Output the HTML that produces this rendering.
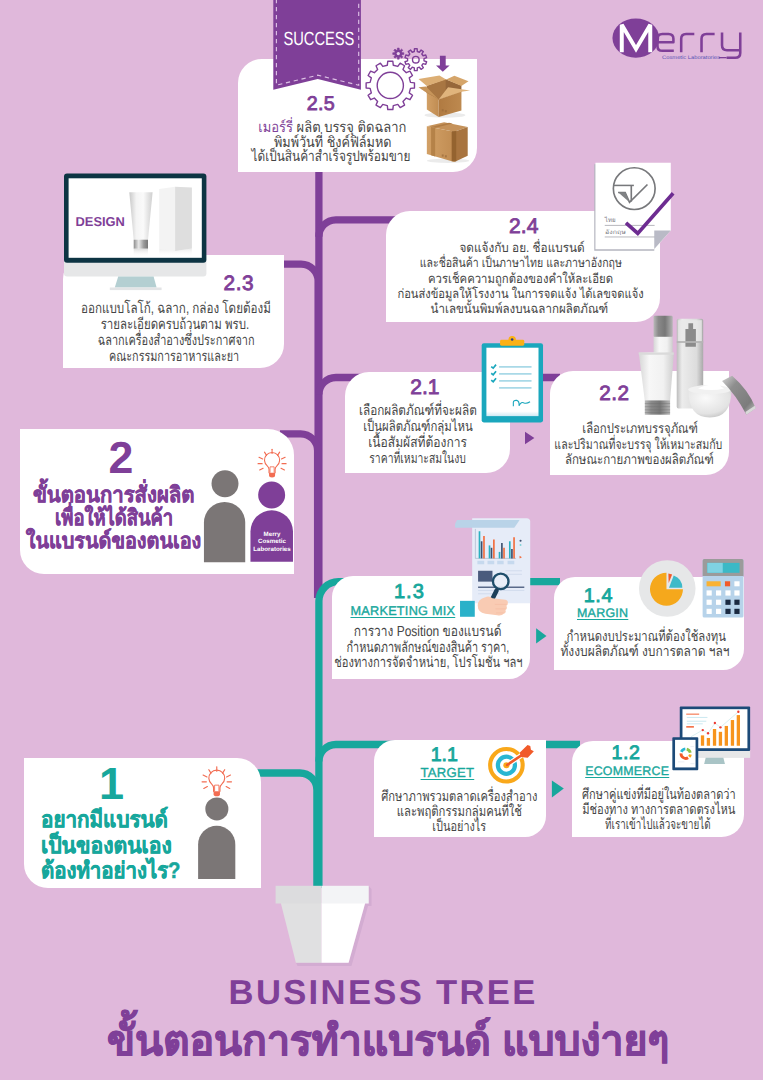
<!DOCTYPE html>
<html lang="th">
<head>
<meta charset="utf-8">
<title>Business Tree</title>
<style>
html,body{margin:0;padding:0;}
body{width:763px;height:1080px;background:#e0b8db;font-family:"Liberation Sans",sans-serif;overflow:hidden;position:relative;color:#231f20;text-rendering:geometricPrecision;}
#page{position:absolute;left:0;top:0;width:763px;height:1080px;overflow:hidden;background:#e0b8db;}
svg{position:absolute;overflow:visible;}
.box{position:absolute;background:#fff;}
.r{border-radius:25px 0 25px 0;}
.l{border-radius:0 25px 0 25px;}
.t{position:absolute;white-space:nowrap;text-align:center;}
.num{position:absolute;white-space:nowrap;text-align:center;font-weight:normal;-webkit-text-stroke:0.85px;color:#7f3f98;line-height:24px;width:60px;margin-left:-30px;}
.teal{color:#17a79c;}
.pur{color:#7f3f98;}
.ln{position:absolute;text-align:center;white-space:nowrap;font-size:12.5px;line-height:16px;height:16px;color:#454545;width:300px;margin-left:-150px;margin-top:-8px;}
.ln>span,.big>span{display:inline-block;}
.lbl{position:absolute;white-space:nowrap;text-align:center;font-size:12.5px;font-weight:normal;-webkit-text-stroke:0.35px;color:#17a79c;text-decoration:underline;text-decoration-thickness:0.9px;text-underline-offset:1.5px;letter-spacing:0.25px;line-height:14px;width:200px;margin-left:-100px;}
</style>
</head>
<body>
<div id="page">
<!-- TREE -->
<svg id="tree" width="763" height="1080" viewBox="0 0 763 1080" style="left:0;top:0">
  <g fill="none" stroke="#7f3f98" stroke-width="7.3">
    <path d="M318.9 60 V598"/>
    <path d="M400 219.8 H335.9 A17 17 0 0 0 318.9 236.8"/>
    <path d="M270 264.1 H301.1 A17 17 0 0 1 318.1 281.1 V598"/>
    <path d="M560 377.5 H335.9 A17 17 0 0 0 318.9 394.5"/>
    <path d="M280 433.8 H300.6 A17 17 0 0 1 317.6 450.8 V598"/>
  </g>
  <g fill="none" stroke="#17a79c" stroke-width="7.3">
    <path d="M318.9 888 V601.1 A19.5 19.5 0 0 1 338.4 581.6 H560"/>
    <path d="M580 744.5 H335.9 A17 17 0 0 0 318.9 761.5"/>
    <path d="M250 773 H299.9 A17 17 0 0 1 316.9 790 V888"/>
  </g>
  <!-- pot -->
  <g>
    <path d="M368.7 886 V903.5 H365.2 L348.6 962.7 H296 L297.5 966 H351.5 L368 906 H371.5 V889 Z" fill="#c9a3cb" opacity=".55"/>
    <path d="M280.8 903 H321.5 V962.7 H295.9 Z" fill="#e0e0e1"/>
    <path d="M321.5 903 H365.2 L348.6 962.7 H321.5 Z" fill="#ffffff"/>
    <rect x="275.6" y="885.8" width="45.9" height="17.7" fill="#dcdcde"/>
    <rect x="321.5" y="885.8" width="47.2" height="17.7" fill="#f3f4f6"/>
  </g>
</svg>

<!-- BOXES -->
<div class="box" style="left:238.2px;top:59.4px;width:239.3px;height:112.2px;border-radius:24px 0 24px 0"></div>
<div class="box" style="left:386.4px;top:210.8px;width:273.7px;height:111.1px;border-radius:24px 0 24px 0"></div>
<div class="box" style="left:62.8px;top:254.5px;width:221.0px;height:113.9px;border-radius:24px 0 24px 0"></div>
<div class="box" style="left:345.1px;top:371.8px;width:164.8px;height:100.8px;border-radius:24px 0 24px 0"></div>
<div class="box" style="left:549.8px;top:371.1px;width:179.6px;height:104.3px;border-radius:23px 0 23px 0"></div>
<div class="box" style="left:20.1px;top:428.8px;width:273.7px;height:145.4px;border-radius:0 26px 0 24px"></div>
<div class="box" style="left:332.2px;top:576.3px;width:198.1px;height:102.7px;border-radius:21px 0 21px 0"></div>
<div class="box" style="left:554px;top:577px;width:190.0px;height:92.5px;border-radius:21px 0 21px 0"></div>
<div class="box" style="left:374.2px;top:739.8px;width:171.7px;height:97.5px;border-radius:21px 0 21px 0"></div>
<div class="box" style="left:572.2px;top:740.5px;width:172.2px;height:96.6px;border-radius:21px 0 22.5px 0"></div>
<div class="box" style="left:24px;top:758.2px;width:237.0px;height:130.0px;border-radius:0 24px 0 24px"></div>

<!-- ribbon -->
<svg id="ribbon" width="90" height="95" viewBox="0 0 90 95" style="left:272px;top:0">
  <path d="M1.3 0 H88.9 V89.7 L45.7 79 L1.3 89.7 Z" fill="#7f3f98"/>
  <path d="M4.4 -1 V85.2 L45.7 75.2 L86.7 85.2 V-1" fill="none" stroke="#dcc0e4" stroke-width="1.15" stroke-dasharray="4.3 3.7"/>
</svg>
<div class="t" style="left:275.4px;top:30.3px;width:87px;font-size:14.7px;line-height:20px;color:#fff;transform:scaleY(1.3);">SUCCESS</div>

<!-- TEXT -->
<div class="ln" id="ln0" style="left:332.50px;top:128.41px;font-size:14.6px;"><span style="transform:scaleX(0.889)"><span class="pur">เมอร์รี่</span> ผลิต บรรจุ ติดฉลาก</span></div>
<div class="ln" id="ln1" style="left:332.75px;top:142.91px;font-size:14.6px;"><span style="transform:scaleX(0.868)">พิมพ์วันที่ ชิงค์ฟิล์มหด</span></div>
<div class="ln" id="ln2" style="left:330.75px;top:157.11px;font-size:14.6px;"><span style="transform:scaleX(0.81)">ได้เป็นสินค้าสำเร็จรูปพร้อมขาย</span></div>
<div class="ln" id="ln3" style="left:522.35px;top:248.00px;font-size:12.8px;"><span style="transform:scaleX(0.92)">จดแจ้งกับ อย. ชื่อแบรนด์</span></div>
<div class="ln" id="ln4" style="left:521.20px;top:263.30px;font-size:12.8px;"><span style="transform:scaleX(0.823)">และชื่อสินค้า เป็นภาษาไทย และภาษาอังกฤษ</span></div>
<div class="ln" id="ln5" style="left:520.70px;top:279.00px;font-size:12.8px;"><span style="transform:scaleX(0.885)">ควรเช็คความถูกต้องของคำให้ละเอียด</span></div>
<div class="ln" id="ln6" style="left:520.65px;top:294.30px;font-size:12.8px;"><span style="transform:scaleX(0.87)">ก่อนส่งข้อมูลให้โรงงาน ในการจดแจ้ง ได้เลขจดแจ้ง</span></div>
<div class="ln" id="ln7" style="left:519.10px;top:309.30px;font-size:12.8px;"><span style="transform:scaleX(0.903)">นำเลขนั้นพิมพ์ลงบนฉลากผลิตภัณฑ์</span></div>
<div class="ln" id="ln8" style="left:175.45px;top:309.30px;font-size:14.8px;"><span style="transform:scaleX(0.785)">ออกแบบโลโก้, ฉลาก, กล่อง โดยต้องมี</span></div>
<div class="ln" id="ln9" style="left:175.15px;top:324.91px;font-size:14.8px;"><span style="transform:scaleX(0.774)">รายละเอียดครบถ้วนตาม พรบ.</span></div>
<div class="ln" id="ln10" style="left:175.70px;top:340.91px;font-size:14.8px;"><span style="transform:scaleX(0.738)">ฉลากเครื่องสำอางซึ่งประกาศจาก</span></div>
<div class="ln" id="ln11" style="left:174.35px;top:356.91px;font-size:14.8px;"><span style="transform:scaleX(0.73)">คณะกรรมการอาหารและยา</span></div>
<div class="ln" id="ln12" style="left:418.30px;top:410.91px;font-size:14.3px;"><span style="transform:scaleX(0.819)">เลือกผลิตภัณฑ์ที่จะผลิต</span></div>
<div class="ln" id="ln13" style="left:418.35px;top:426.61px;font-size:14.3px;"><span style="transform:scaleX(0.795)">เป็นผลิตภัณฑ์กลุ่มไหน</span></div>
<div class="ln" id="ln14" style="left:417.60px;top:443.00px;font-size:14.3px;"><span style="transform:scaleX(0.843)">เนื้อสัมผัสที่ต้องการ</span></div>
<div class="ln" id="ln15" style="left:417.60px;top:458.71px;font-size:14.3px;"><span style="transform:scaleX(0.725)">ราคาที่เหมาะสมในงบ</span></div>
<div class="ln" id="ln16" style="left:640.10px;top:428.11px;font-size:13.9px;"><span style="transform:scaleX(0.813)">เลือกประเภทบรรจุภัณฑ์</span></div>
<div class="ln" id="ln17" style="left:638.65px;top:443.61px;font-size:13.9px;"><span style="transform:scaleX(0.761)">และปริมาณที่จะบรรจุ ให้เหมาะสมกับ</span></div>
<div class="ln" id="ln18" style="left:639.35px;top:459.30px;font-size:13.9px;"><span style="transform:scaleX(0.824)">ลักษณะกายภาพของผลิตภัณฑ์</span></div>
<div class="ln" id="ln19" style="left:427.65px;top:631.71px;font-size:14.5px;"><span style="transform:scaleX(0.825)">การวาง Position ของแบรนด์</span></div>
<div class="ln" id="ln20" style="left:428.05px;top:647.61px;font-size:14.5px;"><span style="transform:scaleX(0.747)">กำหนดภาพลักษณ์ของสินค้า ราคา,</span></div>
<div class="ln" id="ln21" style="left:428.35px;top:662.61px;font-size:14.5px;"><span style="transform:scaleX(0.769)">ช่องทางการจัดจำหน่าย, โปรโมชั่น ฯลฯ</span></div>
<div class="ln" id="ln22" style="left:645.65px;top:637.21px;font-size:14.3px;"><span style="transform:scaleX(0.788)">กำหนดงบประมาณที่ต้องใช้ลงทุน</span></div>
<div class="ln" id="ln23" style="left:645.40px;top:651.91px;font-size:14.3px;"><span style="transform:scaleX(0.837)">ทั้งงบผลิตภัณฑ์ งบการตลาด ฯลฯ</span></div>
<div class="ln" id="ln24" style="left:459.15px;top:796.61px;font-size:14.3px;"><span style="transform:scaleX(0.779)">ศึกษาภาพรวมตลาดเครื่องสำอาง</span></div>
<div class="ln" id="ln25" style="left:459.45px;top:811.91px;font-size:14.3px;"><span style="transform:scaleX(0.789)">และพฤติกรรมกลุ่มคนที่ใช้</span></div>
<div class="ln" id="ln26" style="left:459.00px;top:826.91px;font-size:14.3px;"><span style="transform:scaleX(0.763)">เป็นอย่างไร</span></div>
<div class="ln" id="ln27" style="left:658.75px;top:795.21px;font-size:14.3px;"><span style="transform:scaleX(0.769)">ศึกษาคู่แข่งที่มีอยู่ในท้องตลาดว่า</span></div>
<div class="ln" id="ln28" style="left:658.75px;top:809.61px;font-size:14.3px;"><span style="transform:scaleX(0.776)">มีช่องทาง ทางการตลาดตรงไหน</span></div>
<div class="ln" id="ln29" style="left:657.90px;top:824.61px;font-size:14.3px;"><span style="transform:scaleX(0.687)">ที่เราเข้าไปแล้วจะขายได้</span></div>
<div class="num pur" id="num0" style="left:320.93px;top:92.17px;font-size:19.7px;letter-spacing:0.25px"><span>2.5</span></div>
<div class="num pur" id="num1" style="left:523.78px;top:215.42px;font-size:21px;letter-spacing:0.15px"><span>2.4</span></div>
<div class="num pur" id="num2" style="left:238.90px;top:271.79px;font-size:20.8px;letter-spacing:0.6px"><span>2.3</span></div>
<div class="num pur" id="num3" style="left:424.90px;top:376.02px;font-size:21px;letter-spacing:0px"><span>2.1</span></div>
<div class="num pur" id="num4" style="left:614.45px;top:381.83px;font-size:20.7px;letter-spacing:0.5px"><span>2.2</span></div>
<div class="num teal" id="num5" style="left:409.40px;top:580.44px;font-size:20.1px;letter-spacing:1px"><span>1.3</span></div>
<div class="num teal" id="num6" style="left:598.38px;top:584.44px;font-size:19.8px;letter-spacing:0.55px"><span>1.4</span></div>
<div class="num teal" id="num7" style="left:444.30px;top:742.51px;font-size:19.6px;letter-spacing:0px"><span>1.1</span></div>
<div class="num teal" id="num8" style="left:625.98px;top:741.41px;font-size:19.6px;letter-spacing:0.55px"><span>1.2</span></div>
<div class="lbl" id="lbl0" style="left:402.88px;top:603.60px;font-size:12.69px;"><span>MARKETING MIX</span></div>
<div class="lbl" id="lbl1" style="left:602.67px;top:606.28px;font-size:12.46px;"><span>MARGIN</span></div>
<div class="lbl" id="lbl2" style="left:447.43px;top:766.36px;font-size:13.1px;"><span>TARGET</span></div>
<div class="lbl" id="lbl3" style="left:627.23px;top:764.41px;font-size:12.38px;"><span>ECOMMERCE</span></div>
<!-- BIG TEXT -->
<div class="t pur" id="two" style="left:91px;top:432.5px;width:60px;font-size:44.7px;line-height:52px;font-weight:bold"><span>2</span></div>
<div class="t pur big" id="b2a" style="left:-36.5px;top:480px;width:300px;font-size:21.8px;line-height:30px;font-weight:bold;-webkit-text-stroke:0.45px"><span style="transform:scaleX(.932)">ขั้นตอนการสั่งผลิต</span></div>
<div class="t pur big" id="b2b" style="left:-35.6px;top:503px;width:300px;font-size:21.8px;line-height:30px;font-weight:bold;-webkit-text-stroke:0.45px"><span style="transform:scaleX(.843)">เพื่อให้ได้สินค้า</span></div>
<div class="t pur big" id="b2c" style="left:-36.3px;top:526px;width:300px;font-size:21.8px;line-height:30px;font-weight:bold;-webkit-text-stroke:0.45px"><span style="transform:scaleX(.909)">ในแบรนด์ของตนเอง</span></div>

<div class="t teal" id="one" style="left:81.4px;top:758.8px;width:60px;font-size:45px;line-height:50px;font-weight:bold"><span>1</span></div>
<div class="t teal big" id="b1a" style="left:41.3px;top:806px;text-align:left;font-size:22.5px;line-height:28px;font-weight:bold;-webkit-text-stroke:0.45px"><span style="transform:scaleX(.916);transform-origin:0 50%">อยากมีแบรนด์</span></div>
<div class="t teal big" id="b1b" style="left:41.3px;top:832px;text-align:left;font-size:22.5px;line-height:28px;font-weight:bold;-webkit-text-stroke:0.45px"><span style="transform:scaleX(.938);transform-origin:0 50%">เป็นของตนเอง</span></div>
<div class="t teal big" id="b1c" style="left:41.3px;top:856.5px;text-align:left;font-size:22.5px;line-height:28px;font-weight:bold;-webkit-text-stroke:0.45px"><span style="transform:scaleX(.906);transform-origin:0 50%">ต้องทำอย่างไร?</span></div>

<div class="t pur" id="ttl1" style="left:228.6px;top:973.4px;text-align:left;font-size:34.6px;line-height:40px;font-weight:bold;letter-spacing:2.34px"><span>BUSINESS TREE</span></div>
<div class="t pur big" id="ttl2" style="left:107.4px;top:1013.4px;text-align:left;font-size:42px;line-height:56px;font-weight:bold;-webkit-text-stroke:0.8px"><span style="transform:scaleX(.9745);transform-origin:0 50%">ขั้นตอนการทำแบรนด์ แบบง่ายๆ</span></div>
<!-- ICONS -->
<!-- gears + arrow -->
<svg width="763" height="200" viewBox="0 0 763 200" style="left:0;top:0">
  <g fill="none" stroke="#7f3f98" stroke-width="1.4" stroke-linejoin="round">
    <path d="M387.32 65.22 L387.76 61.23 L392.84 61.23 L393.28 65.22 L397.81 66.43 L400.18 63.20 L404.58 65.74 L402.97 69.41 L406.29 72.73 L409.96 71.12 L412.50 75.52 L409.27 77.89 L410.48 82.42 L414.47 82.86 L414.47 87.94 L410.48 88.38 L409.27 92.91 L412.50 95.28 L409.96 99.68 L406.29 98.07 L402.97 101.39 L404.58 105.06 L400.18 107.60 L397.81 104.37 L393.28 105.58 L392.84 109.57 L387.76 109.57 L387.32 105.58 L382.79 104.37 L380.42 107.60 L376.02 105.06 L377.63 101.39 L374.31 98.07 L370.64 99.68 L368.10 95.28 L371.33 92.91 L370.12 88.38 L366.13 87.94 L366.13 82.86 L370.12 82.42 L371.33 77.89 L368.10 75.52 L370.64 71.12 L374.31 72.73 L377.63 69.41 L376.02 65.74 L380.42 63.20 L382.79 66.43 Z"/>
    <circle cx="390.3" cy="85.4" r="13.1"/>
    <path d="M414.30 51.54 L414.42 48.79 L417.18 48.79 L417.30 51.54 L419.38 52.21 L421.10 50.06 L423.33 51.68 L421.81 53.98 L423.10 55.75 L425.75 55.02 L426.61 57.64 L424.03 58.61 L424.03 60.79 L426.61 61.76 L425.75 64.38 L423.10 63.65 L421.81 65.42 L423.33 67.72 L421.10 69.34 L419.38 67.19 L417.30 67.86 L417.18 70.61 L414.42 70.61 L414.30 67.86 L412.22 67.19 L410.50 69.34 L408.27 67.72 L409.79 65.42 L408.50 63.65 L405.85 64.38 L404.99 61.76 L407.57 60.79 L407.57 58.61 L404.99 57.64 L405.85 55.02 L408.50 55.75 L409.79 53.98 L408.27 51.68 L410.50 50.06 L412.22 52.21 Z"/>
    <circle cx="415.8" cy="59.7" r="3.3"/>
  </g>
  <path d="M397.36 49.82 L397.42 48.07 L399.18 48.07 L399.24 49.82 L400.31 50.26 L401.59 49.07 L402.83 50.31 L401.64 51.59 L402.08 52.66 L403.83 52.72 L403.83 54.48 L402.08 54.54 L401.64 55.61 L402.83 56.89 L401.59 58.13 L400.31 56.94 L399.24 57.38 L399.18 59.13 L397.42 59.13 L397.36 57.38 L396.29 56.94 L395.01 58.13 L393.77 56.89 L394.96 55.61 L394.52 54.54 L392.77 54.48 L392.77 52.72 L394.52 52.66 L394.96 51.59 L393.77 50.31 L395.01 49.07 L396.29 50.26 Z" fill="#7f3f98" stroke="#7f3f98" stroke-width="0.6" stroke-linejoin="round"/>
  <circle cx="398.3" cy="53.6" r="1.6" fill="#e9d3ea"/>
  <path d="M439.9 55.7 H445.7 V65.6 H449.6 L442.8 71.8 L436 65.6 H439.9 Z" fill="#7f3f98"/>
</svg>
<!-- cardboard boxes (coords = 6.358x zoom of region 360,40) -->
<svg width="120" height="130" viewBox="0 0 763 827" style="left:360px;top:40px">
  <defs>
    <linearGradient id="cbL" x1="0" y1="0" x2="1" y2="0"><stop offset="0" stop-color="#d2a066"/><stop offset="1" stop-color="#c08c52"/></linearGradient>
    <linearGradient id="cbR" x1="0" y1="0" x2="1" y2="0"><stop offset="0" stop-color="#b07a41"/><stop offset="1" stop-color="#bd894f"/></linearGradient>
  </defs>
  <!-- open box -->
  <ellipse cx="540" cy="478" rx="130" ry="16" fill="#000" opacity=".08"/>
  <path d="M425 292 L545 250 L645 290 L645 330 L500 380 L425 338 Z" fill="#96673a"/>
  <path d="M425 292 L545 250 L545 330 L500 380 L425 338 Z" fill="#a87642"/>
  <path d="M425 336 L500 378 L500 490 L425 442 Z" fill="url(#cbL)"/>
  <path d="M500 378 L645 326 L645 448 L500 490 Z" fill="url(#cbR)"/>
  <path d="M425 292 L372 248 L505 226 L548 252 Z" fill="#dcae74"/>
  <path d="M548 252 L600 228 L690 262 L645 292 Z" fill="#d5a56a"/>
  <path d="M425 336 L372 300 L420 296 L500 378 L455 350 Z" fill="#c7955a"/>
  <path d="M500 378 L560 300 L700 322 L645 330 Z" fill="#e0b47c"/>
  <path d="M500 378 L455 350 L372 300 L425 336 Z" fill="#c08c52"/>
  <!-- closed box -->
  <ellipse cx="560" cy="768" rx="135" ry="14" fill="#000" opacity=".08"/>
  <path d="M425 548 L535 524 L685 553 L600 583 Z" fill="#c5925a"/>
  <path d="M425 548 L600 583 L600 776 L425 726 Z" fill="url(#cbL)"/>
  <path d="M600 583 L685 553 L685 736 L600 776 Z" fill="#a8743f"/>
  <path d="M452 553 L478 558 L478 741 L452 733 Z" fill="#b58248"/>
  <path d="M452 553 L478 558 L590 531 L566 527 Z" fill="#b07c45"/>
  <path d="M583 580 L612 579 L612 771 L583 771 Z" fill="#94632f"/>
  <rect x="520" y="728" width="12" height="14" fill="#9a6b3a" opacity=".7"/><rect x="540" y="733" width="12" height="14" fill="#9a6b3a" opacity=".7"/>
  <rect x="520" y="440" width="12" height="14" fill="#9a6b3a" opacity=".7"/><rect x="540" y="446" width="12" height="14" fill="#9a6b3a" opacity=".7"/>
</svg>
<!-- Merry logo (coords = 5.262x zoom of region 605,10) -->
<svg width="145" height="60" viewBox="0 0 763 316" style="left:605px;top:10px">
  <ellipse cx="162" cy="148" rx="123" ry="103" fill="#7f3f98"/>
  <path d="M88 222 V78 L163 205 L238 78 V222" fill="none" stroke="#fff" stroke-width="21" stroke-linejoin="miter" stroke-miterlimit="2"/>
  <g fill="none" stroke="#7f3f98" stroke-width="13.5" stroke-linejoin="round">
    <path d="M276 170 H360 V152 Q360 126 334 126 H302 Q276 126 276 152 V189 Q276 215 302 215 H362"/>
    <path d="M401 222 V152 Q401 126 427 126 H470"/>
    <path d="M508 222 V152 Q508 126 534 126 H577"/>
    <path d="M616 119 V186 Q616 212 642 212 H712"/>
    <path d="M712 119 V226 Q712 251 686 251 H640"/>
  </g>
  <path d="M640 251 H600" stroke="#7f3f98" stroke-width="7" fill="none"/>
  <text x="300" y="258" font-family="Liberation Sans, sans-serif" font-size="27" fill="#5a55b5" textLength="305" lengthAdjust="spacingAndGlyphs">Cosmetic Laboratories</text>
</svg>
<!-- document + check (coords = 8.478x zoom of region 590,155) -->
<svg width="90" height="100" viewBox="0 0 763 848" style="left:590px;top:155px">
  <path d="M36 72 H676 V812 H36 Z" fill="#b9bac4" opacity=".0"/>
  <path d="M36 78 H60 V790 H545 V812 H36 Z" fill="#b4b5bf"/>
  <path d="M46 65 H685 V640 L545 800 H46 Z" fill="#fff"/>
  <path d="M545 640 H685 L545 798 Z" fill="#b9bac6"/>
  <g fill="none" stroke="#77787b" stroke-width="14">
    <circle cx="375" cy="285" r="177"/>
    <path d="M203 258 H372" stroke-width="13"/>
    <path d="M350 258 V395" stroke-width="14"/>
    <path d="M238 318 H298 L335 402 L487 250" stroke-width="14" stroke-linejoin="miter"/>
  </g>
  <path d="M240 318 H300 L335 400 Z" fill="#808285"/>
  <g stroke="#9a9ba3" stroke-width="6"><path d="M125 597 H548"/><path d="M125 695 H548"/></g>
  <text x="126" y="572" font-family="Liberation Sans, sans-serif" font-size="52" fill="#77787f">ไทย</text>
  <text x="128" y="672" font-family="Liberation Sans, sans-serif" font-size="50" fill="#77787f" textLength="175" lengthAdjust="spacingAndGlyphs">อังกฤษ</text>
  <path d="M305 575 L405 665 L705 325" fill="none" stroke="#6d2c91" stroke-width="31"/>
</svg>
<!-- monitor 2.3 -->
<svg width="160" height="130" viewBox="0 0 160 130" style="left:60px;top:168px">
  <defs>
    <linearGradient id="tubeG" x1="0" y1="0" x2="1" y2="0"><stop offset="0" stop-color="#c9c9c9"/><stop offset=".3" stop-color="#f4f4f4"/><stop offset=".6" stop-color="#fafafa"/><stop offset="1" stop-color="#cfcfcf"/></linearGradient>
    <linearGradient id="capG" x1="0" y1="0" x2="1" y2="0"><stop offset="0" stop-color="#8d8d8d"/><stop offset=".35" stop-color="#e8e8e8"/><stop offset=".7" stop-color="#9a9a9a"/><stop offset="1" stop-color="#777"/></linearGradient>
    <linearGradient id="fadeG" x1="0" y1="0" x2="0" y2="1"><stop offset="0" stop-color="#cfcfcf" stop-opacity=".7"/><stop offset="1" stop-color="#fff" stop-opacity="0"/></linearGradient>
  </defs>
  <path d="M4 93 H146.4 V105.6 Q146.4 108.6 143.4 108.6 H7 Q4 108.6 4 105.6 Z" fill="#e6e7e8"/>
  <rect x="4" y="5.6" width="142.4" height="89.2" rx="3" fill="#0d3443"/>
  <rect x="8.6" y="10.3" width="133.2" height="79.5" fill="#fff"/>
  <path d="M58.2 108.6 H93.6 L96.6 119.5 H54.8 Z" fill="#b4cfd2"/>
  <rect x="49.8" y="119.5" width="51.8" height="2.6" fill="#e3e4e6"/>
  <!-- tube -->
  <path d="M69.3 24.3 H92.6 L88 71.7 H73.7 Z" fill="url(#tubeG)"/>
  <rect x="73.7" y="71.7" width="14.3" height="9" fill="url(#capG)"/>
  <rect x="73.7" y="80.7" width="14.3" height="8" fill="url(#fadeG)"/>
  <!-- box -->
  <path d="M99.2 21 L115.1 18.8 V83 L99.2 81 Z" fill="#f3f3f3"/>
  <path d="M115.1 18.8 L131.9 19.5 V80.6 L115.1 83 Z" fill="#dedede"/>
  <path d="M99.2 21 L115.1 18.8 L131.9 19.5 L117 21.5 Z" fill="#ececec" opacity="0"/>
  <path d="M99.2 81 L115.1 83 L131.9 80.6 V88.5 H99.2 Z" fill="url(#fadeG)" opacity=".6"/>
</svg>
<div class="t pur" id="design" style="left:75.5px;top:214.4px;text-align:left;font-size:12.9px;line-height:16px;font-weight:bold"><span>DESIGN</span></div>

<!-- clipboard (coords = 10.17x zoom of region 475,330) -->
<svg width="75" height="100" viewBox="0 0 763 1017" style="left:475px;top:330px">
  <defs><linearGradient id="papG" x1="0" y1="0" x2="0" y2="1"><stop offset="0" stop-color="#fff"/><stop offset=".93" stop-color="#fff"/><stop offset="1" stop-color="#cfe9f3"/></linearGradient></defs>
  <rect x="68" y="135" width="624" height="805" rx="22" fill="#1aa7bd"/>
  <rect x="116" y="180" width="530" height="696" fill="url(#papG)"/>
  <circle cx="378" cy="100" r="38" fill="#fbb116"/>
  <rect x="255" y="100" width="246" height="60" rx="14" fill="#fbb116"/>
  <circle cx="378" cy="97" r="13" fill="#2b3a8f"/>
  <g stroke="#a9d9e7" stroke-width="18"><path d="M245 375 H575"/><path d="M245 446 H575"/><path d="M245 517 H575"/><path d="M245 588 H575"/></g>
  <g fill="none" stroke="#1aa7bd" stroke-width="17"><path d="M165 372 L185 388 L214 352"/><path d="M165 440 L185 456 L214 420"/><path d="M165 510 L185 526 L214 490"/></g>
  <path d="M390 775 V735 Q392 712 425 716 Q452 722 448 770 Q470 725 500 742 Q525 752 560 730" fill="none" stroke="#1aa7bd" stroke-width="11"/>
</svg>

<!-- cosmetics (coords = 5.737x zoom of region 630,308) -->
<svg width="133" height="117" viewBox="0 0 763 671" style="left:630px;top:308px">
  <defs>
    <linearGradient id="silv" x1="0" y1="0" x2="1" y2="0"><stop offset="0" stop-color="#b9b9b9"/><stop offset=".25" stop-color="#8a8a8a"/><stop offset=".6" stop-color="#777"/><stop offset="1" stop-color="#b5b5b5"/></linearGradient>
    <linearGradient id="wht" x1="0" y1="0" x2="1" y2="0"><stop offset="0" stop-color="#d6d6d6"/><stop offset=".3" stop-color="#f7f7f7"/><stop offset=".7" stop-color="#f1f1f1"/><stop offset="1" stop-color="#cdcdcd"/></linearGradient>
    <linearGradient id="glass" x1="0" y1="0" x2="1" y2="0"><stop offset="0" stop-color="#bdbdbd"/><stop offset=".2" stop-color="#ececec"/><stop offset=".75" stop-color="#dcdcdc"/><stop offset="1" stop-color="#a9a9a9"/></linearGradient>
    <linearGradient id="lidG" x1="0" y1="0" x2="1" y2="1"><stop offset="0" stop-color="#d5d5d5"/><stop offset=".3" stop-color="#8e8e8e"/><stop offset=".75" stop-color="#7c7c7c"/><stop offset="1" stop-color="#cfcfcf"/></linearGradient>
    <radialGradient id="jarG" cx=".4" cy=".3" r=".8"><stop offset="0" stop-color="#fafafa"/><stop offset=".7" stop-color="#e3e3e3"/><stop offset="1" stop-color="#bdbdbd"/></radialGradient>
  </defs>
  <!-- bottle 1 -->
  <rect x="135" y="45" width="110" height="122" rx="8" fill="url(#silv)"/>
  <rect x="135" y="165" width="110" height="95" fill="url(#wht)"/>
  <!-- pump bottle -->
  <rect x="268" y="62" width="152" height="515" rx="10" fill="url(#glass)"/>
  <rect x="276" y="70" width="136" height="122" fill="#e9e9e9" opacity=".8"/>
  <path d="M318 120 H335 V88 H362 V120 H378 V222 H318 Z" fill="#8b8b8b"/>
  <rect x="268" y="190" width="152" height="10" fill="#b5b5b5"/>
  <!-- tube -->
  <path d="M50 255 H252 L230 532 H85 Z" fill="url(#wht)"/>
  <path d="M50 255 H252 L251 268 H51 Z" fill="#dadada"/>
  <rect x="85" y="530" width="145" height="82" fill="url(#silv)"/>
  <g stroke="#6b6b6b" stroke-width="4" opacity=".5"><path d="M85 548 H230"/><path d="M85 566 H230"/><path d="M85 584 H230"/><path d="M85 600 H230"/></g>
  <!-- jar -->
  <path d="M335 470 Q335 628 458 628 Q582 628 582 470 Z" fill="url(#jarG)"/>
  <ellipse cx="458" cy="468" rx="124" ry="26" fill="#f1f1f1"/>
  <path d="M390 462 Q430 440 470 440 Q490 410 515 420 Q500 440 540 462 Q470 480 390 462 Z" fill="#fff"/>
  <!-- lid -->
  <path d="M528 418 L586 388 Q680 470 722 575 L668 612 Q610 500 528 418 Z" fill="url(#lidG)"/>
  <path d="M668 612 L722 575 L716 560 L662 596 Z" fill="#d9d9d9"/>
</svg>

<!-- people box 2 (coords = 7.267x zoom of region 195,440) -->
<svg width="105" height="135" viewBox="0 0 763 981" style="left:195px;top:440px">
  <circle cx="218" cy="318" r="98" fill="#7b7676"/>
  <path d="M65 888 V600 A150 150 0 0 1 365 600 V888 Z" fill="#7b7676"/>
  <circle cx="557" cy="400" r="98" fill="#7f3f98"/>
  <path d="M403 885 V665 A154.5 154.5 0 0 1 712 665 V885 Z" fill="#7f3f98"/>
  <g fill="none" stroke="#f26c52" stroke-width="8" stroke-linecap="round">
    <path d="M538 238 V215 Q538 200 525 188 A55 55 0 1 1 595 188 Q582 200 582 215 V238"/>
    <path d="M545 235 V195 H575 V235" stroke-width="6"/>
    <path d="M560 68 V98"/><path d="M505 88 L520 112"/><path d="M615 88 L600 112"/><path d="M465 125 L492 138"/><path d="M655 125 L628 138"/><path d="M458 172 H488"/><path d="M662 172 H632"/><path d="M470 218 L495 205"/><path d="M650 218 L625 205"/>
  </g>
  <path d="M538 238 H582 V258 Q582 272 560 272 Q538 272 538 258 Z" fill="#f26c52"/>
</svg>
<div class="t" style="left:251px;top:530.5px;width:42px;color:#fff;font-size:6.2px;line-height:7.7px;font-weight:bold;white-space:normal">Merry<br>Cosmetic<br>Laboratories</div>

<!-- person box 1 (coords = 3.468x zoom of region 30,755) -->
<svg width="80" height="130" viewBox="0 0 277.4 450.8" style="left:180px;top:755px">
  <circle cx="127.8" cy="187" r="40" fill="#7b7676"/>
  <path d="M62.8 430 V310 A64.5 64.5 0 0 1 191.8 310 V430 Z" fill="#7b7676"/>
  <g fill="none" stroke="#f26c52" stroke-width="4" stroke-linecap="round" transform="translate(-152.5,7) scale(0.5)">
    <path d="M538 238 V215 Q538 200 525 188 A55 55 0 1 1 595 188 Q582 200 582 215 V238" stroke-width="8"/>
    <path d="M545 235 V195 H575 V235" stroke-width="6"/>
    <g stroke-width="8"><path d="M560 68 V98"/><path d="M505 88 L520 112"/><path d="M615 88 L600 112"/><path d="M465 125 L492 138"/><path d="M655 125 L628 138"/><path d="M458 172 H488"/><path d="M662 172 H632"/><path d="M470 218 L495 205"/><path d="M650 218 L625 205"/></g>
    <path d="M538 238 H582 V258 Q582 272 560 272 Q538 272 538 258 Z" fill="#f26c52" stroke="none"/>
  </g>
</svg>

<!-- arrows -->
<svg width="763" height="1080" viewBox="0 0 763 1080" style="left:0;top:0;pointer-events:none">
  <path d="M525 431.7 L534.4 438 L525 444.3 Z" fill="#7f3f98"/>
  <path d="M536.1 628.3 L546.5 635.9 L536.1 643.4 Z" fill="#17a79c"/>
  <path d="M551.9 780.4 L563.8 788.6 L551.9 797.4 Z" fill="#17a79c"/>
</svg>
<!-- 1.3 doc + magnifier + hand (coords = 8.478x zoom of region 450,510) -->
<svg width="90" height="120" viewBox="0 0 763 1017" style="left:450px;top:510px">
  <path d="M188 70 H650 Q680 70 680 100 V790 H188 Z" fill="#e6ecf8"/>
  <path d="M60 85 H590 L545 150 H45 Q35 118 60 85 Z" fill="#b9d3e8"/>
  <g stroke="#8b9bb5" stroke-width="4" fill="none"><path d="M215 160 V410 H560"/></g>
  <g stroke-width="14">
    <path d="M250 180 V410" stroke="#2ab1c0"/><path d="M268 265 V410" stroke="#3d4f6e"/><path d="M288 220 V410" stroke="#f26d3d"/>
    <path d="M335 300 V410" stroke="#2ab1c0"/><path d="M352 320 V410" stroke="#3d4f6e"/><path d="M372 250 V410" stroke="#f26d3d"/>
    <path d="M420 355 V410" stroke="#2ab1c0"/><path d="M440 280 V410" stroke="#3d4f6e"/><path d="M458 320 V410" stroke="#f26d3d"/>
    <path d="M507 265 V410" stroke="#2ab1c0"/><path d="M525 330 V410" stroke="#3d4f6e"/><path d="M543 230 V410" stroke="#f26d3d"/>
  </g>
  <circle cx="598" cy="260" r="9" fill="#3d4f6e"/><circle cx="598" cy="297" r="8" fill="#7fd0d6"/><path d="M590 388 L610 400 L590 412 Z" fill="#f26d3d"/>
  <g fill="#c6d9ee"><rect x="232" y="430" width="58" height="30"/><rect x="318" y="430" width="57" height="30"/><rect x="400" y="430" width="55" height="30"/><rect x="488" y="430" width="57" height="30"/></g>
  <rect x="238" y="515" width="122" height="92" fill="#4a5b7d"/>
  <g stroke="#c3d0e6" stroke-width="5"><path d="M470 515 H610"/><path d="M470 545 H610"/><path d="M238 682 H630"/><path d="M238 710 H420"/></g>
  <path d="M238 655 H630" stroke="#5a6a8a" stroke-width="12"/>
  <circle cx="430" cy="605" r="66" fill="#e9eef8" fill-opacity=".85" stroke="#1f4e6b" stroke-width="20"/>
  <path d="M395 682 L358 757" stroke="#1d3f5a" stroke-width="38" stroke-linecap="round"/>
  <path d="M300 740 Q330 725 360 748 L470 760 Q495 765 490 790 Q492 805 478 812 Q490 835 470 848 Q480 872 455 880 Q440 900 400 893 L300 880 Q235 870 235 810 Q235 755 300 740 Z" fill="#f9cbb3"/>
  <g stroke="#f3b79b" stroke-width="4" fill="none"><path d="M380 800 H480"/><path d="M385 838 H472"/><path d="M390 872 H455"/></g>
  <rect x="85" y="770" width="125" height="135" fill="#2ab1c9"/>
</svg>

<!-- 1.4 pie + calculator (coords = 6.358x zoom of region 635,550) -->
<svg width="120" height="80" viewBox="0 0 763 509" style="left:635px;top:550px">
  <circle cx="205" cy="245" r="180" fill="#e6e7e8"/>
  <path d="M200 250 H305 A105 105 0 1 1 200 145 Z" fill="#f5a81c"/>
  <path d="M216 240 H301 A85 85 0 0 0 246 162 Z" fill="#3dbac9"/>
  <path d="M212 150 L236 156 L214 210 Z" fill="#f15a29"/>
  <rect x="430" y="58" width="260" height="372" rx="10" fill="#b7d3ea"/>
  <path d="M440 58 H680 Q690 58 690 68 V166 H430 V68 Q430 58 440 58 Z" fill="#9b9b9b"/>
  <rect x="460" y="82" width="205" height="63" fill="#3bb9c6"/>
  <rect x="460" y="82" width="98" height="63" fill="#7fd3e3"/>
  <rect x="455" y="199" width="90" height="32" fill="#f9b233"/><rect x="572" y="199" width="33" height="32" fill="#f15a29"/><rect x="632" y="199" width="33" height="32" fill="#fff"/>
  <g fill="#fff"><rect x="455" y="257" width="33" height="33"/><rect x="515" y="257" width="33" height="33"/><rect x="575" y="257" width="33" height="33"/><rect x="632" y="257" width="33" height="33"/>
  <rect x="455" y="316" width="33" height="33"/><rect x="515" y="316" width="33" height="33"/><rect x="455" y="374" width="33" height="33"/><rect x="515" y="374" width="33" height="33"/></g>
  <g fill="#1b2a41"><rect x="575" y="316" width="33" height="33"/><rect x="632" y="316" width="33" height="33"/><rect x="575" y="374" width="33" height="33"/><rect x="632" y="374" width="33" height="33"/></g>
</svg>

<!-- 1.1 target (coords = 11.74x zoom of region 480,735) -->
<svg width="65" height="60" viewBox="0 0 763 704" style="left:480px;top:735px">
  <circle cx="310" cy="355" r="191" fill="#fff" stroke="#f9a81a" stroke-width="48"/>
  <circle cx="310" cy="355" r="100" fill="none" stroke="#29b6d1" stroke-width="50"/>
  <circle cx="310" cy="355" r="36" fill="#f9a81a"/>
  <path d="M345 334 L525 212" stroke="#fff" stroke-width="58"/>
  <path d="M318 352 L525 212" stroke="#f15a29" stroke-width="30" stroke-linecap="round"/>
  <path d="M468 205 L558 118 L590 128 L598 172 L632 190 L560 266 L478 258 Z" fill="#f15a29"/>
</svg>

<!-- 1.2 monitor + tablet (coords = 8.478x zoom of region 665,700) -->
<svg width="90" height="85" viewBox="0 0 763 721" style="left:665px;top:700px">
  <rect x="280" y="425" width="442" height="66" fill="#e6e7e8"/>
  <path d="M345 490 H495 L508 542 H332 Z" fill="#a9c4c6"/>
  <rect x="125" y="55" width="597" height="377" rx="8" fill="#1c4a78"/>
  <rect x="148" y="78" width="551" height="331" fill="#fff"/>
  <g stroke-width="6"><path d="M180 120 H290" stroke="#f15a29" stroke-width="8"/><path d="M185 148 H360" stroke="#b6e0ea"/><path d="M185 180 H350" stroke="#b6e0ea"/><path d="M185 202 H320" stroke="#b6e0ea"/><path d="M180 228 H245" stroke="#f15a29" stroke-width="12"/></g>
  <path d="M220 312 L320 255 L365 282 L423 195 L470 232 L622 100" fill="none" stroke="#bfe3e6" stroke-width="5"/>
  <g fill="#f7941d"><rect x="304" y="300" width="28" height="88"/><rect x="354" y="322" width="28" height="66"/><rect x="406" y="246" width="28" height="142"/><rect x="456" y="270" width="28" height="118"/><rect x="506" y="220" width="28" height="168"/><rect x="558" y="170" width="28" height="218"/><rect x="608" y="128" width="28" height="260"/></g>
  <g fill="#ee3b33"><circle cx="320" cy="255" r="10"/><circle cx="365" cy="282" r="10"/><circle cx="423" cy="195" r="10"/><circle cx="470" cy="232" r="10"/><circle cx="622" cy="100" r="10"/></g>
  <rect x="62" y="315" width="220" height="280" rx="8" fill="#1c4a78"/>
  <rect x="85" y="338" width="174" height="234" fill="#fff"/>
  <g fill="none" stroke-width="24">
    <path d="M139 440 A40 40 0 0 1 172 415" stroke="#29b6d1"/>
    <path d="M184 416 A40 40 0 0 1 214 448" stroke="#8bc34a"/>
    <path d="M215 462 A40 40 0 0 1 205 482" stroke="#f9a81a"/>
    <path d="M196 490 A40 40 0 0 1 136 452" stroke="#f15a29"/>
  </g>
  <g stroke="#d5dde6" stroke-width="4"><path d="M110 525 H165"/><path d="M215 395 H245"/><path d="M215 540 H250"/></g>
</svg>

</div>
</body>
</html>
